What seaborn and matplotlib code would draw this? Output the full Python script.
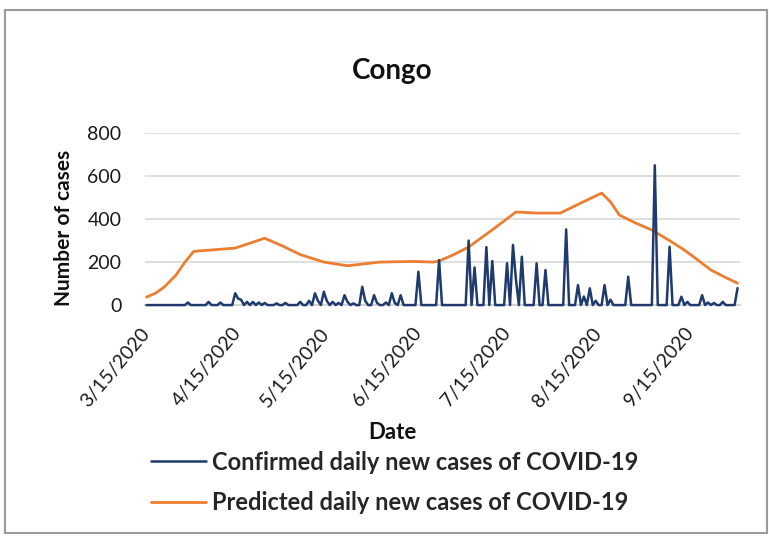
import pandas as pd
import seaborn as sns
import matplotlib.pyplot as plt
from matplotlib.patches import Rectangle

# 1) Data
start_date = "2020-03-15"
end_date = "2020-10-01"

# confirmed daily new cases, one value per day from 3/15/2020 (7 per row)
confirmed = [
    0, 0, 0, 0, 0, 0, 0,
    0, 0, 0, 0, 0, 0, 0,
    12, 0, 0, 0, 0, 0, 0,
    15, 0, 0, 0, 12, 0, 0,
    0, 0, 55, 30, 25, 0, 15,
    0, 15, 0, 12, 0, 10, 0,
    0, 0, 8, 0, 0, 10, 0,
    0, 0, 0, 15, 0, 0, 20,
    0, 55, 20, 0, 62, 20, 0,
    15, 0, 10, 0, 46, 15, 0,
    8, 0, 0, 85, 20, 0, 0,
    46, 10, 0, 0, 12, 0, 55,
    10, 0, 46, 0, 0, 0, 0,
    0, 155, 0, 0, 0, 0, 0,
    0, 209, 0, 0, 0, 0, 0,
    0, 0, 0, 0, 300, 0, 175,
    0, 0, 0, 270, 0, 205, 0,
    0, 0, 0, 195, 0, 280, 120,
    0, 225, 0, 0, 0, 0, 194,
    0, 0, 163, 0, 0, 0, 0,
    0, 0, 352, 0, 0, 0, 93,
    0, 40, 0, 78, 0, 20, 0,
    0, 93, 0, 25, 0, 0, 0,
    0, 0, 132, 0, 0, 0, 0,
    0, 0, 0, 0, 650, 0, 0,
    0, 0, 271, 0, 0, 0, 39,
    0, 15, 0, 0, 0, 0, 46,
    0, 12, 0, 10, 0, 0, 15,
    0, 0, 0, 0, 79,
]

# predicted curve, read at its bends
predicted_dates = [
    "2020-03-15", "2020-03-18", "2020-03-21", "2020-03-25", "2020-03-28",
    "2020-03-31", "2020-04-14", "2020-04-24", "2020-04-30", "2020-05-06",
    "2020-05-14", "2020-05-22", "2020-06-02", "2020-06-13", "2020-06-20",
    "2020-06-22", "2020-06-27", "2020-07-02", "2020-07-10", "2020-07-18",
    "2020-07-25", "2020-08-02", "2020-08-09", "2020-08-16", "2020-08-19",
    "2020-08-22", "2020-08-27", "2020-09-02", "2020-09-08", "2020-09-13",
    "2020-09-18", "2020-09-22", "2020-09-27", "2020-10-01",
]
predicted = [
    37, 55, 84, 140, 200,
    250, 265, 311, 275, 235,
    200, 183, 200, 203, 200,
    205, 235, 270, 350, 433,
    428, 428, 475, 521, 480,
    419, 385, 349, 300, 256,
    205, 163, 128, 102,
]

tick_dates = ["2020-03-15", "2020-04-15", "2020-05-15", "2020-06-15",
              "2020-07-15", "2020-08-15", "2020-09-15"]
y_ticks = [0, 200, 400, 600, 800]

confirmed_label = "Confirmed daily new cases of COVID-19"
predicted_label = "Predicted daily new cases of COVID-19"

# 2) Build frames
df_conf = pd.DataFrame({
    "Date": pd.date_range(start_date, end_date, freq="D"),
    "Cases": confirmed,
})
df_pred = pd.DataFrame({
    "Date": pd.to_datetime(predicted_dates),
    "Cases": predicted,
})

# 3) Plot
sns.set_theme(style="white")
plt.rcParams["font.family"] = ["Lato", "DejaVu Sans"]

fig = plt.figure(figsize=(7.69, 5.39), dpi=100)
ax = fig.add_axes([0.1886, 0.434, 0.7734, 0.319])

sns.lineplot(data=df_pred, x="Date", y="Cases", ax=ax, color="#ed7d31",
             linewidth=2.0, label=predicted_label, zorder=3)
sns.lineplot(data=df_conf, x="Date", y="Cases", ax=ax, color="#1f3a6e",
             linewidth=1.8, label=confirmed_label, zorder=4)
for line in ax.lines:
    line.set_clip_on(False)

ax.set_ylim(0, 800)
ax.set_yticks(y_ticks)
ax.set_xlim(pd.Timestamp(start_date) - pd.Timedelta(hours=12),
            pd.Timestamp(end_date) + pd.Timedelta(hours=18))

ticks = pd.to_datetime(tick_dates)
ax.set_xticks(ticks)
ax.set_xticklabels([f"{d.month}/{d.day}/{d.year}" for d in ticks],
                   rotation=50, ha="right", va="center", rotation_mode="anchor",
                   fontsize=14, color="#1a1a1a")
ax.tick_params(axis="x", length=4, color="#d0d0d0", pad=14, direction="out")
ax.tick_params(axis="y", length=0, pad=17, labelsize=14, labelcolor="#1a1a1a")

ax.grid(axis="y", color="#d9d9d9", linewidth=1.2)
ax.grid(axis="x", visible=False)
for side in ["top", "right", "left"]:
    ax.spines[side].set_visible(False)
ax.spines["bottom"].set_color("#d0d0d0")
ax.set_xlabel("")
ax.set_ylabel("")

# titles and labels placed like the Excel chart
fig.text(0.51, 0.868, "Congo", ha="center", va="center",
         fontsize=20, fontweight="bold", color="#111111")
fig.text(0.083, 0.577, "Number of cases", ha="center", va="center",
         rotation=90, fontsize=15, fontweight="bold", color="#111111")
fig.text(0.51, 0.198, "Date", ha="center", va="center",
         fontsize=16, fontweight="bold", color="#111111")

ax.get_legend().remove()
handles, labels = ax.get_legend_handles_labels()
order = [1, 0]
fig.legend([handles[i] for i in order], [labels[i] for i in order],
           loc="upper left", bbox_to_anchor=(0.197, 0.164),
           frameon=False, handlelength=2.3, handletextpad=0.25,
           labelspacing=0.75, borderaxespad=0, borderpad=0,
           prop={"weight": "bold", "size": 17})

# chart border
fig.patches.append(Rectangle((0.007, 0.012), 0.99, 0.97, transform=fig.transFigure,
                             fill=False, edgecolor="#9a9a9a", linewidth=1.5))

fig.savefig("out.png", dpi=100, facecolor="white")
